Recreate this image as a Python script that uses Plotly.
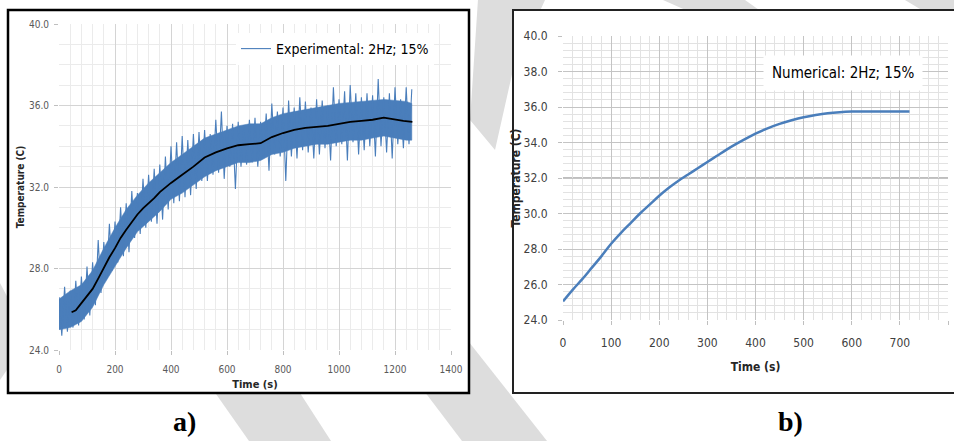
import plotly.graph_objects as go

# ---------------- data ----------------
# a) Experimental: 2Hz; 15%  -- noisy record, read as alternating upper / lower excursions
exp_hi_time = list(range(0, 1261, 20))
exp_hi_temp = [26.6, 27.1, 26.9, 27.4, 27.6, 28.1, 28.3, 29.4, 29.3, 30.2,
               30.3, 31.0, 31.2, 31.8, 31.7, 32.4, 32.6, 32.9, 33.1, 33.5,
               34.0, 34.2, 34.5, 34.3, 34.6, 34.7, 34.8, 34.6, 35.3, 35.7,
               35.0, 35.1, 35.2, 34.9, 35.3, 35.4, 35.2, 35.6, 36.1, 35.7,
               35.9, 36.25, 35.9, 36.4, 36.2, 35.9, 36.3, 36.25, 36.0, 36.9,
               36.3, 36.7, 37.0, 36.6, 36.4, 36.6, 36.5, 37.3, 36.4, 36.6,
               36.9, 36.3, 36.9, 36.8]
exp_lo_time = list(range(10, 1251, 20))
exp_lo_temp = [24.7, 24.9, 25.1, 25.2, 25.5, 25.7, 26.2, 26.8, 27.5, 27.9,
               28.3, 28.6, 28.8, 29.5, 29.7, 30.0, 30.3, 30.2, 30.4, 30.9,
               31.2, 31.3, 31.5, 31.6, 31.9, 32.3, 32.3, 32.6, 32.7, 32.4,
               33.0, 31.9, 33.0, 33.1, 33.2, 33.0, 33.5, 32.8, 33.6, 33.5,
               32.3, 33.5, 33.4, 33.8, 33.7, 33.4, 33.6, 33.9, 33.3, 34.0,
               34.1, 33.3, 34.2, 33.6, 33.8, 34.0, 33.5, 34.0, 33.7, 33.4,
               34.1, 33.9, 34.1]
# dense (solid) core of the noisy band
core_time = [0, 40, 80, 120, 160, 200, 240, 280, 320, 360, 400, 440, 480, 520, 560,
             600, 640, 680, 720, 760, 800, 840, 880, 920, 960, 1000, 1040, 1080,
             1120, 1160, 1200, 1240, 1260]
core_hi = [26.5, 26.9, 27.2, 27.9, 29.0, 30.0, 30.9, 31.6, 32.2, 32.7, 33.2, 33.6,
           34.0, 34.4, 34.6, 34.8, 35.0, 35.1, 35.1, 35.4, 35.6, 35.7, 35.8, 35.9,
           36.0, 36.1, 36.15, 36.2, 36.25, 36.3, 36.25, 36.2, 36.1]
core_lo = [25.0, 25.1, 25.4, 26.1, 27.2, 28.1, 29.0, 29.8, 30.3, 30.8, 31.4, 31.7,
           32.1, 32.5, 32.8, 33.0, 33.2, 33.2, 33.3, 33.6, 33.7, 33.9, 34.0, 34.1,
           34.1, 34.2, 34.3, 34.3, 34.4, 34.5, 34.4, 34.3, 34.3]
# smoothed (moving average) curve drawn in black
smooth_time = [45, 60, 80, 100, 120, 140, 160, 180, 200, 220, 240, 260, 280, 300,
               320, 340, 360, 380, 400, 440, 480, 520, 560, 600, 640, 680, 720,
               760, 800, 840, 880, 920, 960, 1000, 1040, 1080, 1120, 1160, 1200,
               1230, 1262]
smooth_temp = [25.85, 25.95, 26.3, 26.65, 27.0, 27.5, 28.05, 28.55, 29.0, 29.5,
               29.9, 30.3, 30.65, 30.95, 31.2, 31.45, 31.75, 32.0, 32.2, 32.6,
               33.0, 33.45, 33.7, 33.9, 34.05, 34.1, 34.15, 34.45, 34.65, 34.8,
               34.9, 34.95, 35.0, 35.1, 35.2, 35.25, 35.3, 35.4, 35.3, 35.25, 35.2]

# b) Numerical: 2Hz; 15%
num_time = [0, 20, 40, 60, 80, 100, 120, 140, 160, 180, 200, 220, 240, 260, 280,
            300, 320, 340, 360, 380, 400, 425, 450, 475, 500, 525, 550, 575, 600,
            640, 680, 720]
num_temp = [25.05, 25.7, 26.3, 26.95, 27.6, 28.3, 28.9, 29.45, 30.0, 30.5, 31.0,
            31.45, 31.85, 32.2, 32.55, 32.9, 33.25, 33.6, 33.92, 34.22, 34.5, 34.8,
            35.05, 35.25, 35.42, 35.55, 35.65, 35.71, 35.74, 35.75, 35.75, 35.75]

# tick labels
a_xticks = [0, 200, 400, 600, 800, 1000, 1200, 1400]
a_yticks = [24, 28, 32, 36, 40]
b_xticks = [0, 100, 200, 300, 400, 500, 600, 700, 800]
b_yticks = [24, 26, 28, 30, 32, 34, 36, 38, 40]

exp_label = "Experimental: 2Hz; 15%"
num_label = "Numerical: 2Hz; 15%"

# ---------------- figure ----------------
W, H = 954, 441
BLUE = "rgb(74,126,187)"
NARROW = "DejaVu Sans Condensed, Liberation Sans Narrow, Roboto, sans-serif"


def px(x):
    return x / W


def py(y):
    return 1 - y / H


# interleave the upper/lower excursions into one noisy trace
noisy_x, noisy_y = [], []
for i in range(len(exp_lo_time)):
    noisy_x += [exp_hi_time[i], exp_lo_time[i]]
    noisy_y += [exp_hi_temp[i], exp_lo_temp[i]]
noisy_x.append(exp_hi_time[-1])
noisy_y.append(exp_hi_temp[-1])

band_x = core_time + core_time[::-1]
band_y = core_hi + core_lo[::-1]

fig = go.Figure()
fig.add_trace(go.Scatter(x=band_x, y=band_y, mode="lines", fill="toself",
                         fillcolor=BLUE, line=dict(color=BLUE, width=0.5),
                         xaxis="x", yaxis="y", showlegend=False, hoverinfo="skip"))
fig.add_trace(go.Scatter(x=noisy_x, y=noisy_y, mode="lines", name=exp_label,
                         line=dict(color=BLUE, width=1.1), xaxis="x", yaxis="y",
                         showlegend=True))
fig.add_trace(go.Scatter(x=smooth_time, y=smooth_temp, mode="lines",
                         line=dict(color="black", width=1.8), xaxis="x", yaxis="y",
                         showlegend=False, hoverinfo="skip"))
fig.add_trace(go.Scatter(x=num_time, y=num_temp, mode="lines", name=num_label,
                         line=dict(color=BLUE, width=2.5, shape="spline"),
                         xaxis="x2", yaxis="y2", showlegend=False))

# watermark bands (light grey, behind the white panels)
wm = [
    [(150, 300), (240, 300), (331, 441), (249, 441)],
    [(340, 280), (420, 280), (547, 441), (462, 441)],
    [(478, 0), (545, 0), (513, 70), (495, 150), (470, 120)],
    [(663, 0), (745, 0), (762, 12), (690, 12)],
    [(905, 0), (954, 0), (954, 12), (925, 12)],
    [(0, 283), (9, 300), (9, 367), (0, 380)],
]
shapes = []
for poly in wm:
    path = "M " + " L ".join(f"{px(x):.4f},{py(y):.4f}" for x, y in poly) + " Z"
    shapes.append(dict(type="path", xref="paper", yref="paper", path=path,
                       fillcolor="#dddddd", line=dict(width=0), layer="below"))
# panel frames
shapes.append(dict(type="rect", xref="paper", yref="paper", x0=px(8), x1=px(469),
                   y0=py(393), y1=py(10), fillcolor="white",
                   line=dict(color="black", width=2.5), layer="below"))
shapes.append(dict(type="rect", xref="paper", yref="paper", x0=px(513), x1=px(962),
                   y0=py(393), y1=py(10), fillcolor="white",
                   line=dict(color="#222222", width=2), layer="below"))
# emphasised 32.0 gridline in panel b
shapes.append(dict(type="line", xref="x2 domain", yref="y2", x0=0, x1=1, y0=32, y1=32,
                   line=dict(color="#a8a8a8", width=1.6), layer="below"))

annotations = [
    dict(text=num_label, xref="paper", yref="paper", x=px(843), y=py(73),
         xanchor="center", yanchor="middle", showarrow=False, bgcolor="white",
         borderpad=8, font=dict(family=NARROW, size=15, color="black")),
    dict(text="<b>a)</b>", xref="paper", yref="paper", x=px(184), y=py(421),
         xanchor="center", yanchor="middle",
         showarrow=False, font=dict(family="Liberation Serif", size=28, color="black")),
    dict(text="<b>b)</b>", xref="paper", yref="paper", x=px(790), y=py(421),
         xanchor="center", yanchor="middle",
         showarrow=False, font=dict(family="Liberation Serif", size=28, color="black")),
]

tick_a = dict(family=NARROW, size=10, color="#595959")
tick_b = dict(family=NARROW, size=12, color="#404040")

fig.update_layout(
    width=W, height=H, margin=dict(l=0, r=0, t=0, b=0),
    paper_bgcolor="white", plot_bgcolor="white",
    shapes=shapes, annotations=annotations,
    legend=dict(x=px(434), y=py(33), xanchor="right", yanchor="top",
                bgcolor="white", font=dict(family=NARROW, size=14, color="black"),
                itemwidth=30, tracegroupgap=0),
    xaxis=dict(domain=[px(59), px(451)], range=[0, 1400], anchor="y",
               tickmode="array", tickvals=a_xticks, ticktext=[str(v) for v in a_xticks],
               tickfont=tick_a, ticks="outside", ticklen=4, tickcolor="#bfbfbf",
               showgrid=True, gridcolor="#d4d4d4", gridwidth=1, zeroline=False,
               showline=False, automargin=False, ticklabelstandoff=6,
               minor=dict(tick0=0, dtick=40, showgrid=True, gridcolor="#ebebeb"),
               title=dict(text="<b>Time (s)</b>", standoff=6,
                          font=dict(family=NARROW, size=11, color="#262626"))),
    yaxis=dict(domain=[py(350), py(24)], range=[24, 40], anchor="x",
               tickmode="array", tickvals=a_yticks, ticktext=[f"{v:.1f}" for v in a_yticks],
               tickfont=tick_a, ticks="outside", ticklen=4, tickcolor="#bfbfbf",
               showgrid=True, gridcolor="#d4d4d4", gridwidth=1, zeroline=False,
               showline=False, automargin=False, ticklabelstandoff=3,
               minor=dict(tick0=24, dtick=1, showgrid=True, gridcolor="#ebebeb"),
               title=dict(text="<b>Temperature (C)</b>", standoff=2,
                          font=dict(family=NARROW, size=10, color="#262626"))),
    xaxis2=dict(domain=[px(563), px(948)], range=[0, 800], anchor="y2",
                tickmode="array", tickvals=b_xticks, ticktext=[str(v) for v in b_xticks],
                tickfont=tick_b, ticks="outside", ticklen=4, tickcolor="#bfbfbf",
                showgrid=True, gridcolor="#c4c4c4", gridwidth=1, zeroline=False,
                showline=False, automargin=False, ticklabelstandoff=8,
                minor=dict(tick0=0, dtick=20, showgrid=True, gridcolor="#e2e2e2"),
                title=dict(text="<b>Time (s)</b>", standoff=13,
                           font=dict(family=NARROW, size=12, color="#262626"))),
    yaxis2=dict(domain=[py(320), py(36)], range=[24, 40], anchor="x2",
                tickmode="array", tickvals=b_yticks, ticktext=[f"{v:.1f}" for v in b_yticks],
                tickfont=tick_b, ticks="outside", ticklen=4, tickcolor="#bfbfbf",
                showgrid=True, gridcolor="#c4c4c4", gridwidth=1, zeroline=False,
                showline=False, automargin=False, ticklabelstandoff=8,
                minor=dict(tick0=24, dtick=0.4, showgrid=True, gridcolor="#e2e2e2"),
                title=dict(text="<b>Temperature (C)</b>", standoff=0,
                           font=dict(family=NARROW, size=12, color="#262626"))),
)

fig.write_html("out.html", config={"displayModeBar": False},
               post_script="document.body.style.margin='0';")
